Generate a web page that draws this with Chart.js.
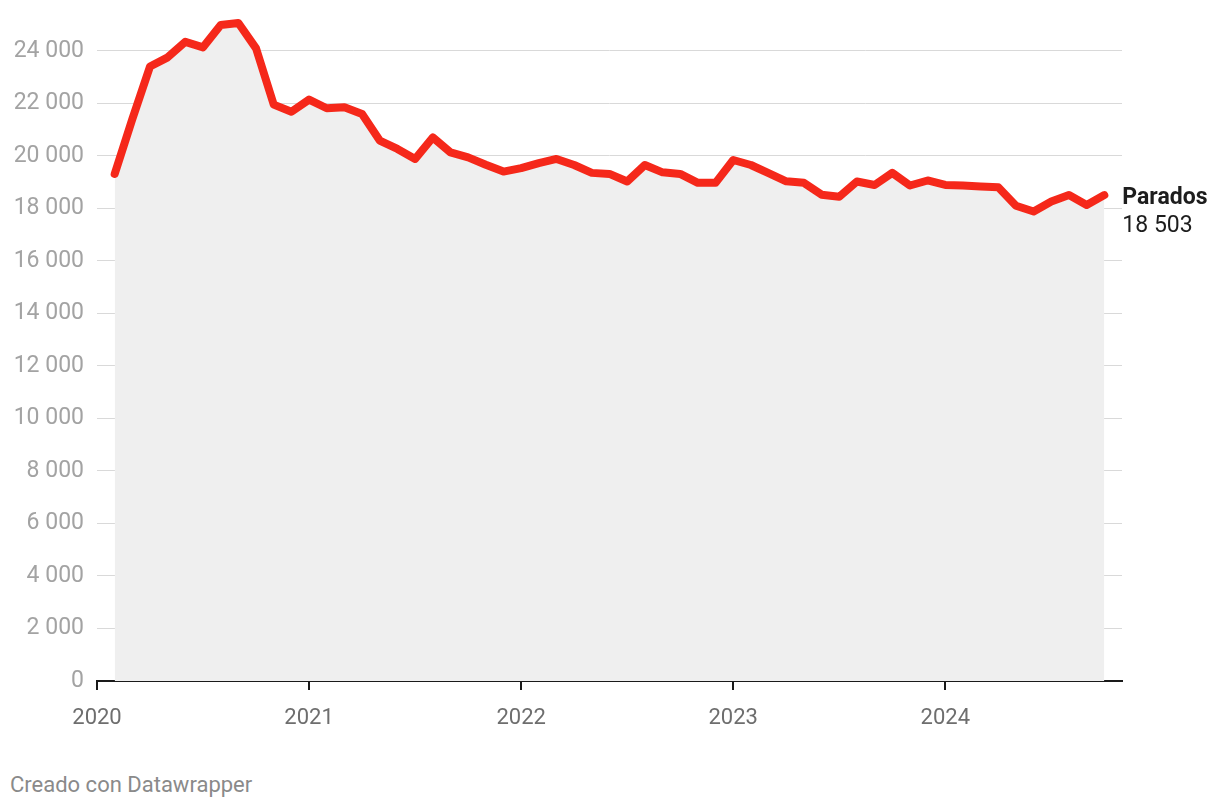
<!doctype html>
<html lang="es">
<head>
    <meta charset="UTF-8">
    <title>Parados</title>
    <style>
        body { margin: 0; background: #fff; font-family: Roboto, sans-serif; }
        #wrap { position: absolute; left: 0; top: 0; width: 1220px; height: 760px; }
        #foot { position: absolute; left: 10px; top: 772px; font-size: 22px; color: #8a8a8a; }
    </style>
</head>
<body>
    <div id="wrap"><canvas id="chart"></canvas></div>
    <div id="foot">Creado con Datawrapper</div>
<script src="https://cdn.jsdelivr.net/npm/chart.js@4/dist/chart.umd.min.js"></script>
<script>

    // meses desde enero 2020 (0 = ene 2020), primer dato feb 2020
    let firstMonth = 1
    let parados = [
        19310, 21400, 23400, 23750, 24340, 24130, 24980, 25060, 24090, 21950, 21680,
        22140, 21810, 21850, 21590, 20580, 20260, 19880, 20700, 20130, 19940, 19660, 19400,
        19530, 19720, 19880, 19650, 19350, 19310, 19020, 19650, 19370, 19310, 18970, 18970,
        19840, 19650, 19340, 19030, 18970, 18520, 18440, 19020, 18890, 19350, 18870, 19060,
        18890, 18870, 18830, 18800, 18100, 17880, 18260, 18510, 18130, 18503
    ]
    let yearLabels = ["2020", "2021", "2022", "2023", "2024"]
    let yTicks = [0, 2000, 4000, 6000, 8000, 10000, 12000, 14000, 16000, 18000, 20000, 22000, 24000]
    let seriesName = "Parados"
    let lastLabel = "18 503"

    let points = parados.map((v, i) => ({x: firstMonth + i, y: v}))

    function fmt(v) {
        return String(v).replace(/\B(?=(\d{3})+(?!\d))/g, ' ')
    }

    let endLabel = {
        id: 'endLabel',
        afterDatasetsDraw(chart) {
            let meta = chart.getDatasetMeta(0)
            let p = meta.data[meta.data.length - 1]
            let ctx = chart.ctx
            ctx.save()
            ctx.textAlign = 'left'
            ctx.textBaseline = 'middle'
            ctx.fillStyle = '#1d1d1d'
            ctx.font = 'bold 23px Roboto'
            ctx.fillText(seriesName, p.x + 18, p.y + 3)
            ctx.font = '23px Roboto'
            ctx.fillText(lastLabel, p.x + 18, p.y + 31)
            ctx.restore()
        }
    }

    let config = {
        type: 'line',
        data: {
            datasets: [{
                label: seriesName,
                data: points,
                borderColor: '#f5281a',
                backgroundColor: '#efefef',
                borderWidth: 8,
                borderCapStyle: 'round',
                borderJoinStyle: 'round',
                fill: 'origin',
                pointRadius: 0,
                tension: 0,
                clip: false
            }]
        },
        options: {
            responsive: true,
            maintainAspectRatio: false,
            animation: false,
            layout: { padding: { top: 14, right: 98, left: 0, bottom: 0 } },
            plugins: { legend: { display: false }, tooltip: { enabled: false } },
            scales: {
                x: {
                    type: 'linear',
                    min: 0,
                    max: 58,
                    afterBuildTicks(axis) {
                        axis.ticks = yearLabels.map((_, i) => ({value: i * 12}))
                    },
                    afterFit(axis) {
                        axis.height = 79
                        axis.paddingLeft = 0
                        axis.paddingRight = 0
                    },
                    ticks: {
                        autoSkip: false,
                        maxRotation: 0,
                        color: '#6e6e6e',
                        font: { family: 'Roboto', size: 22 },
                        padding: 15,
                        callback: (v) => yearLabels[v / 12]
                    },
                    grid: {
                        drawOnChartArea: false,
                        drawTicks: true,
                        tickLength: 9,
                        color: '#1a1a1a',
                        lineWidth: 2
                    },
                    border: { display: true, color: '#1a1a1a', width: 2 }
                },
                y: {
                    min: 0,
                    max: 25400,
                    afterBuildTicks(axis) {
                        axis.ticks = yTicks.map(v => ({value: v}))
                    },
                    afterFit(axis) {
                        axis.width = 97
                        axis.paddingTop = 0
                        axis.paddingBottom = 0
                    },
                    ticks: {
                        color: '#a3a3a3',
                        font: { family: 'Roboto', size: 23 },
                        padding: 13,
                        callback: (v) => fmt(v)
                    },
                    grid: {
                        drawTicks: false,
                        color: '#d9d9d9',
                        lineWidth: 1
                    },
                    border: { display: false }
                }
            }
        },
        plugins: [endLabel]
    }

    let myChart = new Chart(document.getElementById('chart'), config)

</script>
</body>
</html>
